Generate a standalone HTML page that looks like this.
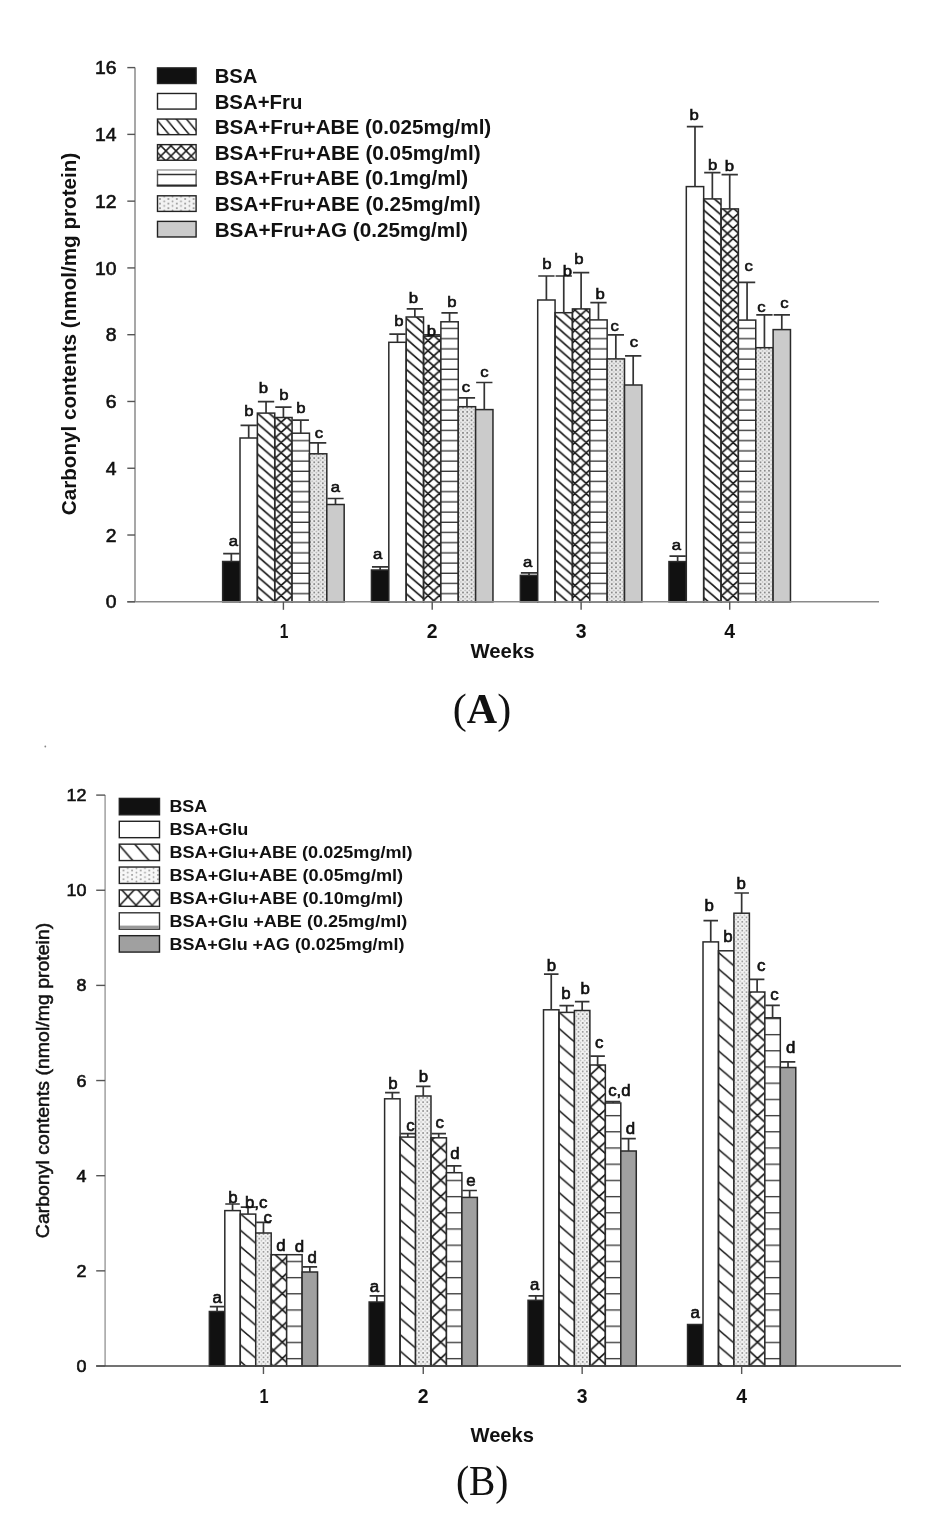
<!DOCTYPE html>
<html><head><meta charset="utf-8"><title>Carbonyl contents</title>
<style>html,body{margin:0;padding:0;background:#fff;overflow:hidden;} svg{display:block;filter:blur(0.55px);}</style>
</head><body>
<svg width="949" height="1515" viewBox="0 0 949 1515"><defs>
<pattern id="diagA" patternUnits="userSpaceOnUse" width="11.72" height="10.2" patternTransform="translate(0 5.6)">
  <path d="M-11.72 -10.2 L23.44 20.4 M-11.72 0 L11.72 20.4 M0 -10.2 L23.44 10.2" stroke="#1a1a1a" stroke-width="1.65" fill="none"/>
</pattern>
<pattern id="crossA" patternUnits="userSpaceOnUse" width="11.3" height="10.2" patternTransform="translate(4.3 9.1)">
  <path d="M-11.3 -10.2 L22.6 20.4 M-11.3 0 L11.3 20.4 M0 -10.2 L22.6 10.2 M22.6 -10.2 L-11.3 20.4 M11.3 -10.2 L-11.3 10.2 M22.6 0 L0 20.4" stroke="#1a1a1a" stroke-width="1.7" fill="none"/>
</pattern>
<pattern id="horizA" patternUnits="userSpaceOnUse" width="20" height="10.2">
  <rect width="20" height="10.2" fill="#fff"/>
  <path d="M0 2.1 L20 2.1" stroke="#3a3a3a" stroke-width="1.35"/>
</pattern>
<pattern id="dotA" patternUnits="userSpaceOnUse" width="4.25" height="4.2" patternTransform="translate(4 0.3)"><rect x="-1" y="-1" width="6.25" height="6.2" fill="#eeeeee"/><circle cx="0" cy="0" r="1.0" fill="#888"/><circle cx="4.25" cy="0" r="1.0" fill="#888"/><circle cx="0" cy="4.2" r="1.0" fill="#888"/><circle cx="4.25" cy="4.2" r="1.0" fill="#888"/><circle cx="2.125" cy="2.1" r="0.85" fill="#b0b0b0"/></pattern>
<pattern id="diagB" patternUnits="userSpaceOnUse" width="19.07" height="16.4" patternTransform="translate(0 6.6)">
  <path d="M-19.07 -16.4 L38.14 32.8 M-19.07 0 L19.07 32.8 M0 -16.4 L38.14 16.4" stroke="#1a1a1a" stroke-width="1.6" fill="none"/>
</pattern>
<pattern id="crossB" patternUnits="userSpaceOnUse" width="17.6" height="16.2" patternTransform="translate(9.5 5.7)">
  <path d="M-17.6 -16.2 L35.2 32.4 M-17.6 0 L17.6 32.4 M0 -16.2 L35.2 16.2 M35.2 -16.2 L-17.6 32.4 M17.6 -16.2 L-17.6 16.2 M35.2 0 L0 32.4" stroke="#1a1a1a" stroke-width="1.65" fill="none"/>
</pattern>
<pattern id="horizB" patternUnits="userSpaceOnUse" width="20" height="16.2">
  <rect width="20" height="16.2" fill="#fff"/>
  <path d="M0 14 L20 14" stroke="#3a3a3a" stroke-width="1.35"/>
</pattern>
<pattern id="dotB" patternUnits="userSpaceOnUse" width="4.2" height="4.4" patternTransform="translate(7.3 2.2)"><rect x="-1" y="-1" width="6.2" height="6.4" fill="#f3f3f3"/><circle cx="0" cy="0" r="0.95" fill="#8c8c8c"/><circle cx="4.2" cy="0" r="0.95" fill="#8c8c8c"/><circle cx="0" cy="4.4" r="0.95" fill="#8c8c8c"/><circle cx="4.2" cy="4.4" r="0.95" fill="#8c8c8c"/><circle cx="2.1" cy="2.2" r="0.8" fill="#b8b8b8"/></pattern>
<pattern id="diagLA" patternUnits="userSpaceOnUse" width="10.1" height="12.12" patternTransform="translate(166.7 119.6)">
  <path d="M-10.1 -12.12 L20.2 24.24 M-10.1 0 L10.1 24.24 M0 -12.12 L20.2 12.12" stroke="#1a1a1a" stroke-width="1.5" fill="none"/>
</pattern>
<pattern id="crossLA" patternUnits="userSpaceOnUse" width="10.1" height="10.2" patternTransform="translate(165.9 150.9)">
  <path d="M-10.1 -10.2 L20.2 20.4 M-10.1 0 L10.1 20.4 M0 -10.2 L20.2 10.2 M20.2 -10.2 L-10.1 20.4 M10.1 -10.2 L-10.1 10.2 M20.2 0 L0 20.4" stroke="#1a1a1a" stroke-width="1.5" fill="none"/>
</pattern>
<pattern id="dotLA" patternUnits="userSpaceOnUse" width="8.4" height="4.6" patternTransform="translate(160 199)"><rect x="-1" y="-1" width="10.4" height="6.6" fill="#f3f3f3"/><circle cx="0" cy="0" r="0.95" fill="#888"/><circle cx="8.4" cy="0" r="0.95" fill="#888"/><circle cx="0" cy="4.6" r="0.95" fill="#888"/><circle cx="8.4" cy="4.6" r="0.95" fill="#888"/><circle cx="4.2" cy="2.3" r="0.9" fill="#999"/></pattern>
<pattern id="diagLB" patternUnits="userSpaceOnUse" width="16.3" height="18.75" patternTransform="translate(135.1 844.5)">
  <path d="M-16.3 -18.75 L32.6 37.5 M-16.3 0 L16.3 37.5 M0 -18.75 L32.6 18.75" stroke="#1a1a1a" stroke-width="1.5" fill="none"/>
</pattern>
<pattern id="crossLB" patternUnits="userSpaceOnUse" width="16.1" height="17.4" patternTransform="translate(128 896.6)">
  <path d="M-16.1 -17.4 L32.2 34.8 M-16.1 0 L16.1 34.8 M0 -17.4 L32.2 17.4 M32.2 -17.4 L-16.1 34.8 M16.1 -17.4 L-16.1 17.4 M32.2 0 L0 34.8" stroke="#1a1a1a" stroke-width="1.5" fill="none"/>
</pattern>
<pattern id="dotLB" patternUnits="userSpaceOnUse" width="8.6" height="4.4" patternTransform="translate(123.5 870.5)"><rect x="-1" y="-1" width="10.6" height="6.4" fill="#f7f7f7"/><circle cx="0" cy="0" r="0.9" fill="#888"/><circle cx="8.6" cy="0" r="0.9" fill="#888"/><circle cx="0" cy="4.4" r="0.9" fill="#888"/><circle cx="8.6" cy="4.4" r="0.9" fill="#888"/><circle cx="4.3" cy="2.2" r="0.85" fill="#999"/></pattern>
</defs>
<rect x="222.65" y="561.5" width="17.36" height="40.3" fill="#111" stroke="#2a2a2a" stroke-width="1.5"/>
<path d="M231.33 561.5 V553.6 M223.17 553.6 H239.49" stroke="#333" stroke-width="1.7" fill="none"/>
<rect x="240.01" y="438" width="17.36" height="163.8" fill="#fff" stroke="#2a2a2a" stroke-width="1.5"/>
<path d="M248.69 438 V425.4 M240.53 425.4 H256.85" stroke="#333" stroke-width="1.7" fill="none"/>
<rect x="257.37" y="413.1" width="17.36" height="188.7" fill="url(#diagA)" stroke="#2a2a2a" stroke-width="1.5"/>
<path d="M266.05 413.1 V401.7 M257.89 401.7 H274.21" stroke="#333" stroke-width="1.7" fill="none"/>
<rect x="274.73" y="417.5" width="17.36" height="184.3" fill="url(#crossA)" stroke="#2a2a2a" stroke-width="1.5"/>
<path d="M283.41 417.5 V407.2 M275.25 407.2 H291.57" stroke="#333" stroke-width="1.7" fill="none"/>
<rect x="292.09" y="433.2" width="17.36" height="168.6" fill="url(#horizA)" stroke="#2a2a2a" stroke-width="1.5"/>
<path d="M300.77 433.2 V420.2 M292.61 420.2 H308.93" stroke="#333" stroke-width="1.7" fill="none"/>
<rect x="309.45" y="453.8" width="17.36" height="148" fill="url(#dotA)" stroke="#2a2a2a" stroke-width="1.5"/>
<path d="M318.13 453.8 V442.8 M309.97 442.8 H326.29" stroke="#333" stroke-width="1.7" fill="none"/>
<rect x="326.81" y="504.5" width="17.36" height="97.3" fill="#cbcbcb" stroke="#2a2a2a" stroke-width="1.5"/>
<path d="M335.49 504.5 V498.5 M327.33 498.5 H343.65" stroke="#333" stroke-width="1.7" fill="none"/>
<rect x="371.45" y="570" width="17.36" height="31.8" fill="#111" stroke="#2a2a2a" stroke-width="1.5"/>
<path d="M380.13 570 V566.9 M371.97 566.9 H388.29" stroke="#333" stroke-width="1.7" fill="none"/>
<rect x="388.81" y="342.3" width="17.36" height="259.5" fill="#fff" stroke="#2a2a2a" stroke-width="1.5"/>
<path d="M397.49 342.3 V334.1 M389.33 334.1 H405.65" stroke="#333" stroke-width="1.7" fill="none"/>
<rect x="406.17" y="317" width="17.36" height="284.8" fill="url(#diagA)" stroke="#2a2a2a" stroke-width="1.5"/>
<path d="M414.85 317 V308.8 M406.69 308.8 H423.01" stroke="#333" stroke-width="1.7" fill="none"/>
<rect x="423.53" y="336.2" width="17.36" height="265.6" fill="url(#crossA)" stroke="#2a2a2a" stroke-width="1.5"/>
<path d="M432.21 336.2 V334.8 M424.05 334.8 H440.37" stroke="#333" stroke-width="1.7" fill="none"/>
<rect x="440.89" y="321.8" width="17.36" height="280" fill="url(#horizA)" stroke="#2a2a2a" stroke-width="1.5"/>
<path d="M449.57 321.8 V312.9 M441.41 312.9 H457.73" stroke="#333" stroke-width="1.7" fill="none"/>
<rect x="458.25" y="406.7" width="17.36" height="195.1" fill="url(#dotA)" stroke="#2a2a2a" stroke-width="1.5"/>
<path d="M466.93 406.7 V397.8 M458.77 397.8 H475.09" stroke="#333" stroke-width="1.7" fill="none"/>
<rect x="475.61" y="409.6" width="17.36" height="192.2" fill="#cbcbcb" stroke="#2a2a2a" stroke-width="1.5"/>
<path d="M484.29 409.6 V382.5 M476.13 382.5 H492.45" stroke="#333" stroke-width="1.7" fill="none"/>
<rect x="520.35" y="575.4" width="17.36" height="26.4" fill="#111" stroke="#2a2a2a" stroke-width="1.5"/>
<path d="M529.03 575.4 V572.8 M520.87 572.8 H537.19" stroke="#333" stroke-width="1.7" fill="none"/>
<rect x="537.71" y="300" width="17.36" height="301.8" fill="#fff" stroke="#2a2a2a" stroke-width="1.5"/>
<path d="M546.39 300 V276 M538.23 276 H554.55" stroke="#333" stroke-width="1.7" fill="none"/>
<rect x="555.07" y="312.7" width="17.36" height="289.1" fill="url(#diagA)" stroke="#2a2a2a" stroke-width="1.5"/>
<path d="M563.75 312.7 V276 M555.59 276 H571.91" stroke="#333" stroke-width="1.7" fill="none"/>
<rect x="572.43" y="308.9" width="17.36" height="292.9" fill="url(#crossA)" stroke="#2a2a2a" stroke-width="1.5"/>
<path d="M581.11 308.9 V272.6 M572.95 272.6 H589.27" stroke="#333" stroke-width="1.7" fill="none"/>
<rect x="589.79" y="319.9" width="17.36" height="281.9" fill="url(#horizA)" stroke="#2a2a2a" stroke-width="1.5"/>
<path d="M598.47 319.9 V302.7 M590.31 302.7 H606.63" stroke="#333" stroke-width="1.7" fill="none"/>
<rect x="607.15" y="358.9" width="17.36" height="242.9" fill="url(#dotA)" stroke="#2a2a2a" stroke-width="1.5"/>
<path d="M615.83 358.9 V334.9 M607.67 334.9 H623.99" stroke="#333" stroke-width="1.7" fill="none"/>
<rect x="624.51" y="385" width="17.36" height="216.8" fill="#cbcbcb" stroke="#2a2a2a" stroke-width="1.5"/>
<path d="M633.19 385 V355.8 M625.03 355.8 H641.35" stroke="#333" stroke-width="1.7" fill="none"/>
<rect x="668.95" y="561.6" width="17.36" height="40.2" fill="#111" stroke="#2a2a2a" stroke-width="1.5"/>
<path d="M677.63 561.6 V556.2 M669.47 556.2 H685.79" stroke="#333" stroke-width="1.7" fill="none"/>
<rect x="686.31" y="186.6" width="17.36" height="415.2" fill="#fff" stroke="#2a2a2a" stroke-width="1.5"/>
<path d="M694.99 186.6 V126.7 M686.83 126.7 H703.15" stroke="#333" stroke-width="1.7" fill="none"/>
<rect x="703.67" y="198.9" width="17.36" height="402.9" fill="url(#diagA)" stroke="#2a2a2a" stroke-width="1.5"/>
<path d="M712.35 198.9 V172.6 M704.19 172.6 H720.51" stroke="#333" stroke-width="1.7" fill="none"/>
<rect x="721.03" y="208.9" width="17.36" height="392.9" fill="url(#crossA)" stroke="#2a2a2a" stroke-width="1.5"/>
<path d="M729.71 208.9 V174.7 M721.55 174.7 H737.87" stroke="#333" stroke-width="1.7" fill="none"/>
<rect x="738.39" y="320.1" width="17.36" height="281.7" fill="url(#horizA)" stroke="#2a2a2a" stroke-width="1.5"/>
<path d="M747.07 320.1 V282.4 M738.91 282.4 H755.23" stroke="#333" stroke-width="1.7" fill="none"/>
<rect x="755.75" y="347.7" width="17.36" height="254.1" fill="url(#dotA)" stroke="#2a2a2a" stroke-width="1.5"/>
<path d="M764.43 347.7 V314.9 M756.27 314.9 H772.59" stroke="#333" stroke-width="1.7" fill="none"/>
<rect x="773.11" y="329.6" width="17.36" height="272.2" fill="#cbcbcb" stroke="#2a2a2a" stroke-width="1.5"/>
<path d="M781.79 329.6 V314.9 M773.63 314.9 H789.95" stroke="#333" stroke-width="1.7" fill="none"/>
<text x="0" y="0" transform="translate(233.4 545.5) scale(1.1 1)" font-family="'Liberation Sans', sans-serif" font-size="15.2" font-weight="normal" fill="#111" stroke="#111" stroke-width="0.6" text-anchor="middle">a</text>
<text x="0" y="0" transform="translate(249 416.1) scale(1.1 1)" font-family="'Liberation Sans', sans-serif" font-size="15.2" font-weight="normal" fill="#111" stroke="#111" stroke-width="0.6" text-anchor="middle">b</text>
<text x="0" y="0" transform="translate(263.3 392.8) scale(1.1 1)" font-family="'Liberation Sans', sans-serif" font-size="15.2" font-weight="normal" fill="#111" stroke="#111" stroke-width="0.6" text-anchor="middle">b</text>
<text x="0" y="0" transform="translate(283.9 399.7) scale(1.1 1)" font-family="'Liberation Sans', sans-serif" font-size="15.2" font-weight="normal" fill="#111" stroke="#111" stroke-width="0.6" text-anchor="middle">b</text>
<text x="0" y="0" transform="translate(301 412.7) scale(1.1 1)" font-family="'Liberation Sans', sans-serif" font-size="15.2" font-weight="normal" fill="#111" stroke="#111" stroke-width="0.6" text-anchor="middle">b</text>
<text x="0" y="0" transform="translate(318.8 438) scale(1.1 1)" font-family="'Liberation Sans', sans-serif" font-size="15.2" font-weight="normal" fill="#111" stroke="#111" stroke-width="0.6" text-anchor="middle">c</text>
<text x="0" y="0" transform="translate(335.5 492.1) scale(1.1 1)" font-family="'Liberation Sans', sans-serif" font-size="15.2" font-weight="normal" fill="#111" stroke="#111" stroke-width="0.6" text-anchor="middle">a</text>
<text x="0" y="0" transform="translate(377.7 559.3) scale(1.1 1)" font-family="'Liberation Sans', sans-serif" font-size="15.2" font-weight="normal" fill="#111" stroke="#111" stroke-width="0.6" text-anchor="middle">a</text>
<text x="0" y="0" transform="translate(399 325.9) scale(1.1 1)" font-family="'Liberation Sans', sans-serif" font-size="15.2" font-weight="normal" fill="#111" stroke="#111" stroke-width="0.6" text-anchor="middle">b</text>
<text x="0" y="0" transform="translate(413.3 303.3) scale(1.1 1)" font-family="'Liberation Sans', sans-serif" font-size="15.2" font-weight="normal" fill="#111" stroke="#111" stroke-width="0.6" text-anchor="middle">b</text>
<text x="0" y="0" transform="translate(431.4 335.5) scale(1.1 1)" font-family="'Liberation Sans', sans-serif" font-size="15.2" font-weight="normal" fill="#111" stroke="#111" stroke-width="0.6" text-anchor="middle">b</text>
<text x="0" y="0" transform="translate(452 306.7) scale(1.1 1)" font-family="'Liberation Sans', sans-serif" font-size="15.2" font-weight="normal" fill="#111" stroke="#111" stroke-width="0.6" text-anchor="middle">b</text>
<text x="0" y="0" transform="translate(466 391.6) scale(1.1 1)" font-family="'Liberation Sans', sans-serif" font-size="15.2" font-weight="normal" fill="#111" stroke="#111" stroke-width="0.6" text-anchor="middle">c</text>
<text x="0" y="0" transform="translate(484.5 376.6) scale(1.1 1)" font-family="'Liberation Sans', sans-serif" font-size="15.2" font-weight="normal" fill="#111" stroke="#111" stroke-width="0.6" text-anchor="middle">c</text>
<text x="0" y="0" transform="translate(527.7 566.8) scale(1.1 1)" font-family="'Liberation Sans', sans-serif" font-size="15.2" font-weight="normal" fill="#111" stroke="#111" stroke-width="0.6" text-anchor="middle">a</text>
<text x="0" y="0" transform="translate(546.8 269.2) scale(1.1 1)" font-family="'Liberation Sans', sans-serif" font-size="15.2" font-weight="normal" fill="#111" stroke="#111" stroke-width="0.6" text-anchor="middle">b</text>
<text x="0" y="0" transform="translate(567.5 276) scale(1.1 1)" font-family="'Liberation Sans', sans-serif" font-size="15.2" font-weight="normal" fill="#111" stroke="#111" stroke-width="0.6" text-anchor="middle">b</text>
<text x="0" y="0" transform="translate(579 264.4) scale(1.1 1)" font-family="'Liberation Sans', sans-serif" font-size="15.2" font-weight="normal" fill="#111" stroke="#111" stroke-width="0.6" text-anchor="middle">b</text>
<text x="0" y="0" transform="translate(600.2 298.6) scale(1.1 1)" font-family="'Liberation Sans', sans-serif" font-size="15.2" font-weight="normal" fill="#111" stroke="#111" stroke-width="0.6" text-anchor="middle">b</text>
<text x="0" y="0" transform="translate(614.7 330.8) scale(1.1 1)" font-family="'Liberation Sans', sans-serif" font-size="15.2" font-weight="normal" fill="#111" stroke="#111" stroke-width="0.6" text-anchor="middle">c</text>
<text x="0" y="0" transform="translate(633.8 347.3) scale(1.1 1)" font-family="'Liberation Sans', sans-serif" font-size="15.2" font-weight="normal" fill="#111" stroke="#111" stroke-width="0.6" text-anchor="middle">c</text>
<text x="0" y="0" transform="translate(676.4 549.8) scale(1.1 1)" font-family="'Liberation Sans', sans-serif" font-size="15.2" font-weight="normal" fill="#111" stroke="#111" stroke-width="0.6" text-anchor="middle">a</text>
<text x="0" y="0" transform="translate(694.2 119.9) scale(1.1 1)" font-family="'Liberation Sans', sans-serif" font-size="15.2" font-weight="normal" fill="#111" stroke="#111" stroke-width="0.6" text-anchor="middle">b</text>
<text x="0" y="0" transform="translate(712.7 169.9) scale(1.1 1)" font-family="'Liberation Sans', sans-serif" font-size="15.2" font-weight="normal" fill="#111" stroke="#111" stroke-width="0.6" text-anchor="middle">b</text>
<text x="0" y="0" transform="translate(729.4 171.2) scale(1.1 1)" font-family="'Liberation Sans', sans-serif" font-size="15.2" font-weight="normal" fill="#111" stroke="#111" stroke-width="0.6" text-anchor="middle">b</text>
<text x="0" y="0" transform="translate(748.7 271.4) scale(1.1 1)" font-family="'Liberation Sans', sans-serif" font-size="15.2" font-weight="normal" fill="#111" stroke="#111" stroke-width="0.6" text-anchor="middle">c</text>
<text x="0" y="0" transform="translate(761.4 312) scale(1.1 1)" font-family="'Liberation Sans', sans-serif" font-size="15.2" font-weight="normal" fill="#111" stroke="#111" stroke-width="0.6" text-anchor="middle">c</text>
<text x="0" y="0" transform="translate(784.3 307.5) scale(1.1 1)" font-family="'Liberation Sans', sans-serif" font-size="15.2" font-weight="normal" fill="#111" stroke="#111" stroke-width="0.6" text-anchor="middle">c</text>
<path d="M135 67.6 V601.8" stroke="#8a8a8a" stroke-width="1.5" fill="none"/>
<path d="M127.3 601.8 H879" stroke="#8a8a8a" stroke-width="1.5" fill="none"/>
<path d="M127.3 601.8 H135" stroke="#555" stroke-width="1.4"/>
<text x="0" y="0" transform="translate(116.49 608.38) scale(1.03 1)" font-family="'Liberation Sans', sans-serif" font-size="18.8" font-weight="normal" fill="#111" stroke="#111" stroke-width="0.6" text-anchor="end">0</text>
<path d="M127.3 535.02 H135" stroke="#555" stroke-width="1.4"/>
<text x="0" y="0" transform="translate(116.49 541.61) scale(1.03 1)" font-family="'Liberation Sans', sans-serif" font-size="18.8" font-weight="normal" fill="#111" stroke="#111" stroke-width="0.6" text-anchor="end">2</text>
<path d="M127.3 468.25 H135" stroke="#555" stroke-width="1.4"/>
<text x="0" y="0" transform="translate(116.49 474.83) scale(1.03 1)" font-family="'Liberation Sans', sans-serif" font-size="18.8" font-weight="normal" fill="#111" stroke="#111" stroke-width="0.6" text-anchor="end">4</text>
<path d="M127.3 401.47 H135" stroke="#555" stroke-width="1.4"/>
<text x="0" y="0" transform="translate(116.49 408.05) scale(1.03 1)" font-family="'Liberation Sans', sans-serif" font-size="18.8" font-weight="normal" fill="#111" stroke="#111" stroke-width="0.6" text-anchor="end">6</text>
<path d="M127.3 334.7 H135" stroke="#555" stroke-width="1.4"/>
<text x="0" y="0" transform="translate(116.49 341.28) scale(1.03 1)" font-family="'Liberation Sans', sans-serif" font-size="18.8" font-weight="normal" fill="#111" stroke="#111" stroke-width="0.6" text-anchor="end">8</text>
<path d="M127.3 267.93 H135" stroke="#555" stroke-width="1.4"/>
<text x="0" y="0" transform="translate(116.49 274.5) scale(1.03 1)" font-family="'Liberation Sans', sans-serif" font-size="18.8" font-weight="normal" fill="#111" stroke="#111" stroke-width="0.6" text-anchor="end">10</text>
<path d="M127.3 201.15 H135" stroke="#555" stroke-width="1.4"/>
<text x="0" y="0" transform="translate(116.49 207.73) scale(1.03 1)" font-family="'Liberation Sans', sans-serif" font-size="18.8" font-weight="normal" fill="#111" stroke="#111" stroke-width="0.6" text-anchor="end">12</text>
<path d="M127.3 134.38 H135" stroke="#555" stroke-width="1.4"/>
<text x="0" y="0" transform="translate(116.49 140.96) scale(1.03 1)" font-family="'Liberation Sans', sans-serif" font-size="18.8" font-weight="normal" fill="#111" stroke="#111" stroke-width="0.6" text-anchor="end">14</text>
<path d="M127.3 67.6 H135" stroke="#555" stroke-width="1.4"/>
<text x="0" y="0" transform="translate(116.49 74.18) scale(1.03 1)" font-family="'Liberation Sans', sans-serif" font-size="18.8" font-weight="normal" fill="#111" stroke="#111" stroke-width="0.6" text-anchor="end">16</text>
<path d="M283.41 601.8 V609.8" stroke="#555" stroke-width="1.4"/>
<text x="0" y="0" transform="translate(284.01 637.8) scale(0.8 1)" font-family="'Liberation Sans', sans-serif" font-size="19.4" font-weight="bold" fill="#111" text-anchor="middle">1</text>
<path d="M432.21 601.8 V609.8" stroke="#555" stroke-width="1.4"/>
<text x="0" y="0" transform="translate(432.21 637.8)" font-family="'Liberation Sans', sans-serif" font-size="19.4" font-weight="bold" fill="#111" text-anchor="middle">2</text>
<path d="M581.11 601.8 V609.8" stroke="#555" stroke-width="1.4"/>
<text x="0" y="0" transform="translate(581.11 637.8)" font-family="'Liberation Sans', sans-serif" font-size="19.4" font-weight="bold" fill="#111" text-anchor="middle">3</text>
<path d="M729.71 601.8 V609.8" stroke="#555" stroke-width="1.4"/>
<text x="0" y="0" transform="translate(729.71 637.8)" font-family="'Liberation Sans', sans-serif" font-size="19.4" font-weight="bold" fill="#111" text-anchor="middle">4</text>
<rect x="209.35" y="1311.5" width="15.46" height="54.5" fill="#111" stroke="#2a2a2a" stroke-width="1.5"/>
<path d="M217.08 1311.5 V1306.7 M209.81 1306.7 H224.35" stroke="#333" stroke-width="1.7" fill="none"/>
<rect x="224.81" y="1210.6" width="15.46" height="155.4" fill="#fff" stroke="#2a2a2a" stroke-width="1.5"/>
<path d="M232.54 1210.6 V1204 M225.27 1204 H239.81" stroke="#333" stroke-width="1.7" fill="none"/>
<rect x="240.27" y="1214.1" width="15.46" height="151.9" fill="url(#diagB)" stroke="#2a2a2a" stroke-width="1.5"/>
<path d="M248 1214.1 V1207.1 M240.73 1207.1 H255.27" stroke="#333" stroke-width="1.7" fill="none"/>
<rect x="255.73" y="1233" width="15.46" height="133" fill="url(#dotB)" stroke="#2a2a2a" stroke-width="1.5"/>
<path d="M263.46 1233 V1222.3 M256.19 1222.3 H270.73" stroke="#333" stroke-width="1.7" fill="none"/>
<rect x="271.19" y="1254.7" width="15.46" height="111.3" fill="url(#crossB)" stroke="#2a2a2a" stroke-width="1.5"/>
<rect x="286.65" y="1254.7" width="15.46" height="111.3" fill="url(#horizB)" stroke="#2a2a2a" stroke-width="1.5"/>
<rect x="302.11" y="1272" width="15.46" height="94" fill="#a0a0a0" stroke="#2a2a2a" stroke-width="1.5"/>
<path d="M309.84 1272 V1266.9 M302.57 1266.9 H317.11" stroke="#333" stroke-width="1.7" fill="none"/>
<rect x="369.15" y="1302" width="15.46" height="64" fill="#111" stroke="#2a2a2a" stroke-width="1.5"/>
<path d="M376.88 1302 V1295.9 M369.61 1295.9 H384.15" stroke="#333" stroke-width="1.7" fill="none"/>
<rect x="384.61" y="1098.8" width="15.46" height="267.2" fill="#fff" stroke="#2a2a2a" stroke-width="1.5"/>
<path d="M392.34 1098.8 V1092.6 M385.07 1092.6 H399.61" stroke="#333" stroke-width="1.7" fill="none"/>
<rect x="400.07" y="1137.1" width="15.46" height="228.9" fill="url(#diagB)" stroke="#2a2a2a" stroke-width="1.5"/>
<path d="M407.8 1137.1 V1133.7 M400.53 1133.7 H415.07" stroke="#333" stroke-width="1.7" fill="none"/>
<rect x="415.53" y="1096" width="15.46" height="270" fill="url(#dotB)" stroke="#2a2a2a" stroke-width="1.5"/>
<path d="M423.26 1096 V1086.4 M415.99 1086.4 H430.53" stroke="#333" stroke-width="1.7" fill="none"/>
<rect x="430.99" y="1137.8" width="15.46" height="228.2" fill="url(#crossB)" stroke="#2a2a2a" stroke-width="1.5"/>
<path d="M438.72 1137.8 V1133.7 M431.45 1133.7 H445.99" stroke="#333" stroke-width="1.7" fill="none"/>
<rect x="446.45" y="1172.7" width="15.46" height="193.3" fill="url(#horizB)" stroke="#2a2a2a" stroke-width="1.5"/>
<path d="M454.18 1172.7 V1165.9 M446.91 1165.9 H461.45" stroke="#333" stroke-width="1.7" fill="none"/>
<rect x="461.91" y="1197.4" width="15.46" height="168.6" fill="#a0a0a0" stroke="#2a2a2a" stroke-width="1.5"/>
<path d="M469.64 1197.4 V1190.5 M462.37 1190.5 H476.91" stroke="#333" stroke-width="1.7" fill="none"/>
<rect x="528.05" y="1300.3" width="15.46" height="65.7" fill="#111" stroke="#2a2a2a" stroke-width="1.5"/>
<path d="M535.78 1300.3 V1295.9 M528.51 1295.9 H543.05" stroke="#333" stroke-width="1.7" fill="none"/>
<rect x="543.51" y="1009.8" width="15.46" height="356.2" fill="#fff" stroke="#2a2a2a" stroke-width="1.5"/>
<path d="M551.24 1009.8 V974.2 M543.97 974.2 H558.51" stroke="#333" stroke-width="1.7" fill="none"/>
<rect x="558.97" y="1012.4" width="15.46" height="353.6" fill="url(#diagB)" stroke="#2a2a2a" stroke-width="1.5"/>
<path d="M566.7 1012.4 V1005.7 M559.43 1005.7 H573.97" stroke="#333" stroke-width="1.7" fill="none"/>
<rect x="574.43" y="1010.5" width="15.46" height="355.5" fill="url(#dotB)" stroke="#2a2a2a" stroke-width="1.5"/>
<path d="M582.16 1010.5 V1001.6 M574.89 1001.6 H589.43" stroke="#333" stroke-width="1.7" fill="none"/>
<rect x="589.89" y="1065" width="15.46" height="301" fill="url(#crossB)" stroke="#2a2a2a" stroke-width="1.5"/>
<path d="M597.62 1065 V1056.2 M590.35 1056.2 H604.89" stroke="#333" stroke-width="1.7" fill="none"/>
<rect x="605.35" y="1103" width="15.46" height="263" fill="url(#horizB)" stroke="#2a2a2a" stroke-width="1.5"/>
<path d="M613.08 1103 V1101.7 M605.81 1101.7 H620.35" stroke="#333" stroke-width="1.7" fill="none"/>
<rect x="620.81" y="1151" width="15.46" height="215" fill="#a0a0a0" stroke="#2a2a2a" stroke-width="1.5"/>
<path d="M628.54 1151 V1138.6 M621.27 1138.6 H635.81" stroke="#333" stroke-width="1.7" fill="none"/>
<rect x="687.55" y="1324.5" width="15.46" height="41.5" fill="#111" stroke="#2a2a2a" stroke-width="1.5"/>
<rect x="703.01" y="941.9" width="15.46" height="424.1" fill="#fff" stroke="#2a2a2a" stroke-width="1.5"/>
<path d="M710.74 941.9 V920.7 M703.47 920.7 H718.01" stroke="#333" stroke-width="1.7" fill="none"/>
<rect x="718.47" y="950.8" width="15.46" height="415.2" fill="url(#diagB)" stroke="#2a2a2a" stroke-width="1.5"/>
<rect x="733.93" y="913.2" width="15.46" height="452.8" fill="url(#dotB)" stroke="#2a2a2a" stroke-width="1.5"/>
<path d="M741.66 913.2 V893 M734.39 893 H748.93" stroke="#333" stroke-width="1.7" fill="none"/>
<rect x="749.39" y="992" width="15.46" height="374" fill="url(#crossB)" stroke="#2a2a2a" stroke-width="1.5"/>
<path d="M757.12 992 V979.4 M749.85 979.4 H764.39" stroke="#333" stroke-width="1.7" fill="none"/>
<rect x="764.85" y="1017.8" width="15.46" height="348.2" fill="url(#horizB)" stroke="#2a2a2a" stroke-width="1.5"/>
<path d="M772.58 1017.8 V1005.3 M765.31 1005.3 H779.85" stroke="#333" stroke-width="1.7" fill="none"/>
<rect x="780.31" y="1067.5" width="15.46" height="298.5" fill="#a0a0a0" stroke="#2a2a2a" stroke-width="1.5"/>
<path d="M788.04 1067.5 V1061.9 M780.77 1061.9 H795.31" stroke="#333" stroke-width="1.7" fill="none"/>
<text x="0" y="0" transform="translate(217.1 1302.8) scale(1.08 1)" font-family="'Liberation Sans', sans-serif" font-size="15.6" font-weight="normal" fill="#111" stroke="#111" stroke-width="0.6" text-anchor="middle">a</text>
<text x="0" y="0" transform="translate(232.9 1202.8) scale(1.08 1)" font-family="'Liberation Sans', sans-serif" font-size="15.6" font-weight="normal" fill="#111" stroke="#111" stroke-width="0.6" text-anchor="middle">b</text>
<text x="0" y="0" transform="translate(244.96 1208.3) scale(1.08 1)" font-family="'Liberation Sans', sans-serif" font-size="15.6" font-weight="normal" fill="#111" stroke="#111" stroke-width="0.6" text-anchor="start">b,c</text>
<text x="0" y="0" transform="translate(267.8 1223.3) scale(1.08 1)" font-family="'Liberation Sans', sans-serif" font-size="15.6" font-weight="normal" fill="#111" stroke="#111" stroke-width="0.6" text-anchor="middle">c</text>
<text x="0" y="0" transform="translate(281 1251.4) scale(1.08 1)" font-family="'Liberation Sans', sans-serif" font-size="15.6" font-weight="normal" fill="#111" stroke="#111" stroke-width="0.6" text-anchor="middle">d</text>
<text x="0" y="0" transform="translate(299.4 1251.9) scale(1.08 1)" font-family="'Liberation Sans', sans-serif" font-size="15.6" font-weight="normal" fill="#111" stroke="#111" stroke-width="0.6" text-anchor="middle">d</text>
<text x="0" y="0" transform="translate(312.3 1262.7) scale(1.08 1)" font-family="'Liberation Sans', sans-serif" font-size="15.6" font-weight="normal" fill="#111" stroke="#111" stroke-width="0.6" text-anchor="middle">d</text>
<text x="0" y="0" transform="translate(374.4 1291.6) scale(1.08 1)" font-family="'Liberation Sans', sans-serif" font-size="15.6" font-weight="normal" fill="#111" stroke="#111" stroke-width="0.6" text-anchor="middle">a</text>
<text x="0" y="0" transform="translate(392.9 1089.4) scale(1.08 1)" font-family="'Liberation Sans', sans-serif" font-size="15.6" font-weight="normal" fill="#111" stroke="#111" stroke-width="0.6" text-anchor="middle">b</text>
<text x="0" y="0" transform="translate(410.4 1131.1) scale(1.08 1)" font-family="'Liberation Sans', sans-serif" font-size="15.6" font-weight="normal" fill="#111" stroke="#111" stroke-width="0.6" text-anchor="middle">c</text>
<text x="0" y="0" transform="translate(423.4 1081.8) scale(1.08 1)" font-family="'Liberation Sans', sans-serif" font-size="15.6" font-weight="normal" fill="#111" stroke="#111" stroke-width="0.6" text-anchor="middle">b</text>
<text x="0" y="0" transform="translate(439.8 1128.4) scale(1.08 1)" font-family="'Liberation Sans', sans-serif" font-size="15.6" font-weight="normal" fill="#111" stroke="#111" stroke-width="0.6" text-anchor="middle">c</text>
<text x="0" y="0" transform="translate(454.9 1159.2) scale(1.08 1)" font-family="'Liberation Sans', sans-serif" font-size="15.6" font-weight="normal" fill="#111" stroke="#111" stroke-width="0.6" text-anchor="middle">d</text>
<text x="0" y="0" transform="translate(471 1185.9) scale(1.08 1)" font-family="'Liberation Sans', sans-serif" font-size="15.6" font-weight="normal" fill="#111" stroke="#111" stroke-width="0.6" text-anchor="middle">e</text>
<text x="0" y="0" transform="translate(534.8 1290.2) scale(1.08 1)" font-family="'Liberation Sans', sans-serif" font-size="15.6" font-weight="normal" fill="#111" stroke="#111" stroke-width="0.6" text-anchor="middle">a</text>
<text x="0" y="0" transform="translate(551.5 970.9) scale(1.08 1)" font-family="'Liberation Sans', sans-serif" font-size="15.6" font-weight="normal" fill="#111" stroke="#111" stroke-width="0.6" text-anchor="middle">b</text>
<text x="0" y="0" transform="translate(565.9 999) scale(1.08 1)" font-family="'Liberation Sans', sans-serif" font-size="15.6" font-weight="normal" fill="#111" stroke="#111" stroke-width="0.6" text-anchor="middle">b</text>
<text x="0" y="0" transform="translate(585.1 993.5) scale(1.08 1)" font-family="'Liberation Sans', sans-serif" font-size="15.6" font-weight="normal" fill="#111" stroke="#111" stroke-width="0.6" text-anchor="middle">b</text>
<text x="0" y="0" transform="translate(599.2 1047.5) scale(1.08 1)" font-family="'Liberation Sans', sans-serif" font-size="15.6" font-weight="normal" fill="#111" stroke="#111" stroke-width="0.6" text-anchor="middle">c</text>
<text x="0" y="0" transform="translate(608.16 1095.6) scale(1.08 1)" font-family="'Liberation Sans', sans-serif" font-size="15.6" font-weight="normal" fill="#111" stroke="#111" stroke-width="0.6" text-anchor="start">c,d</text>
<text x="0" y="0" transform="translate(630.5 1134.2) scale(1.08 1)" font-family="'Liberation Sans', sans-serif" font-size="15.6" font-weight="normal" fill="#111" stroke="#111" stroke-width="0.6" text-anchor="middle">d</text>
<text x="0" y="0" transform="translate(695.1 1317.5) scale(1.08 1)" font-family="'Liberation Sans', sans-serif" font-size="15.6" font-weight="normal" fill="#111" stroke="#111" stroke-width="0.6" text-anchor="middle">a</text>
<text x="0" y="0" transform="translate(709.2 911.3) scale(1.08 1)" font-family="'Liberation Sans', sans-serif" font-size="15.6" font-weight="normal" fill="#111" stroke="#111" stroke-width="0.6" text-anchor="middle">b</text>
<text x="0" y="0" transform="translate(728 942.1) scale(1.08 1)" font-family="'Liberation Sans', sans-serif" font-size="15.6" font-weight="normal" fill="#111" stroke="#111" stroke-width="0.6" text-anchor="middle">b</text>
<text x="0" y="0" transform="translate(741.3 888.7) scale(1.08 1)" font-family="'Liberation Sans', sans-serif" font-size="15.6" font-weight="normal" fill="#111" stroke="#111" stroke-width="0.6" text-anchor="middle">b</text>
<text x="0" y="0" transform="translate(761.2 970.5) scale(1.08 1)" font-family="'Liberation Sans', sans-serif" font-size="15.6" font-weight="normal" fill="#111" stroke="#111" stroke-width="0.6" text-anchor="middle">c</text>
<text x="0" y="0" transform="translate(774.5 999.7) scale(1.08 1)" font-family="'Liberation Sans', sans-serif" font-size="15.6" font-weight="normal" fill="#111" stroke="#111" stroke-width="0.6" text-anchor="middle">c</text>
<text x="0" y="0" transform="translate(790.6 1053.3) scale(1.08 1)" font-family="'Liberation Sans', sans-serif" font-size="15.6" font-weight="normal" fill="#111" stroke="#111" stroke-width="0.6" text-anchor="middle">d</text>
<path d="M105.1 795.1 V1366" stroke="#a0a0a0" stroke-width="1.5" fill="none"/>
<path d="M96.2 1366 H901" stroke="#444" stroke-width="1.5" fill="none"/>
<path d="M96.2 1366 H105.1" stroke="#555" stroke-width="1.4"/>
<text x="0" y="0" transform="translate(86.38 1372.09) scale(1.03 1)" font-family="'Liberation Sans', sans-serif" font-size="17.4" font-weight="normal" fill="#111" stroke="#111" stroke-width="0.6" text-anchor="end">0</text>
<path d="M96.2 1270.85 H105.1" stroke="#555" stroke-width="1.4"/>
<text x="0" y="0" transform="translate(86.38 1276.94) scale(1.03 1)" font-family="'Liberation Sans', sans-serif" font-size="17.4" font-weight="normal" fill="#111" stroke="#111" stroke-width="0.6" text-anchor="end">2</text>
<path d="M96.2 1175.7 H105.1" stroke="#555" stroke-width="1.4"/>
<text x="0" y="0" transform="translate(86.38 1181.79) scale(1.03 1)" font-family="'Liberation Sans', sans-serif" font-size="17.4" font-weight="normal" fill="#111" stroke="#111" stroke-width="0.6" text-anchor="end">4</text>
<path d="M96.2 1080.55 H105.1" stroke="#555" stroke-width="1.4"/>
<text x="0" y="0" transform="translate(86.38 1086.64) scale(1.03 1)" font-family="'Liberation Sans', sans-serif" font-size="17.4" font-weight="normal" fill="#111" stroke="#111" stroke-width="0.6" text-anchor="end">6</text>
<path d="M96.2 985.4 H105.1" stroke="#555" stroke-width="1.4"/>
<text x="0" y="0" transform="translate(86.38 991.49) scale(1.03 1)" font-family="'Liberation Sans', sans-serif" font-size="17.4" font-weight="normal" fill="#111" stroke="#111" stroke-width="0.6" text-anchor="end">8</text>
<path d="M96.2 890.25 H105.1" stroke="#555" stroke-width="1.4"/>
<text x="0" y="0" transform="translate(86.38 896.34) scale(1.03 1)" font-family="'Liberation Sans', sans-serif" font-size="17.4" font-weight="normal" fill="#111" stroke="#111" stroke-width="0.6" text-anchor="end">10</text>
<path d="M96.2 795.1 H105.1" stroke="#555" stroke-width="1.4"/>
<text x="0" y="0" transform="translate(86.38 801.19) scale(1.03 1)" font-family="'Liberation Sans', sans-serif" font-size="17.4" font-weight="normal" fill="#111" stroke="#111" stroke-width="0.6" text-anchor="end">12</text>
<path d="M263.46 1366 V1374" stroke="#555" stroke-width="1.4"/>
<text x="0" y="0" transform="translate(264.06 1403.3) scale(0.8 1)" font-family="'Liberation Sans', sans-serif" font-size="20.4" font-weight="bold" fill="#111" text-anchor="middle">1</text>
<path d="M423.26 1366 V1374" stroke="#555" stroke-width="1.4"/>
<text x="0" y="0" transform="translate(423.26 1403.3) scale(0.95 1)" font-family="'Liberation Sans', sans-serif" font-size="20.4" font-weight="bold" fill="#111" text-anchor="middle">2</text>
<path d="M582.16 1366 V1374" stroke="#555" stroke-width="1.4"/>
<text x="0" y="0" transform="translate(582.16 1403.3) scale(0.95 1)" font-family="'Liberation Sans', sans-serif" font-size="20.4" font-weight="bold" fill="#111" text-anchor="middle">3</text>
<path d="M741.66 1366 V1374" stroke="#555" stroke-width="1.4"/>
<text x="0" y="0" transform="translate(741.66 1403.3) scale(0.95 1)" font-family="'Liberation Sans', sans-serif" font-size="20.4" font-weight="bold" fill="#111" text-anchor="middle">4</text>
<text x="0" y="0" transform="translate(470.5 658.3)" font-family="'Liberation Sans', sans-serif" font-size="19.4" font-weight="bold" fill="#111" text-anchor="start" textLength="64" lengthAdjust="spacingAndGlyphs">Weeks</text>
<text x="0" y="0" transform="translate(470.5 1442)" font-family="'Liberation Sans', sans-serif" font-size="20.1" font-weight="bold" fill="#111" text-anchor="start" textLength="63.5" lengthAdjust="spacingAndGlyphs">Weeks</text>
<text x="0" y="0" transform="translate(76.2 515.2) rotate(-90)" font-family="'Liberation Sans', sans-serif" font-size="19.8" font-weight="bold" fill="#111" text-anchor="start" textLength="362.5" lengthAdjust="spacingAndGlyphs">Carbonyl contents (nmol/mg protein)</text>
<text x="0" y="0" transform="translate(49 1238.2) rotate(-90)" font-family="'Liberation Sans', sans-serif" font-size="18.2" font-weight="normal" fill="#111" stroke="#111" stroke-width="0.5" text-anchor="start" textLength="315.5" lengthAdjust="spacingAndGlyphs">Carbonyl contents (nmol/mg protein)</text>
<rect x="157.5" y="67.9" width="38.6" height="15.6" fill="#111" stroke="#222" stroke-width="1.4"/>
<text x="0" y="0" transform="translate(214.65 83.1)" font-family="'Liberation Sans', sans-serif" font-size="19.5" font-weight="bold" fill="#111" text-anchor="start" textLength="42.8" lengthAdjust="spacingAndGlyphs">BSA</text>
<rect x="157.5" y="93.48" width="38.6" height="15.6" fill="#fff" stroke="#222" stroke-width="1.4"/>
<text x="0" y="0" transform="translate(214.65 108.68)" font-family="'Liberation Sans', sans-serif" font-size="19.5" font-weight="bold" fill="#111" text-anchor="start" textLength="87.7" lengthAdjust="spacingAndGlyphs">BSA+Fru</text>
<rect x="157.5" y="119.06" width="38.6" height="15.6" fill="url(#diagLA)" stroke="#222" stroke-width="1.4"/>
<text x="0" y="0" transform="translate(214.65 134.26)" font-family="'Liberation Sans', sans-serif" font-size="19.5" font-weight="bold" fill="#111" text-anchor="start" textLength="276.6" lengthAdjust="spacingAndGlyphs">BSA+Fru+ABE (0.025mg/ml)</text>
<rect x="157.5" y="144.64" width="38.6" height="15.6" fill="url(#crossLA)" stroke="#222" stroke-width="1.4"/>
<text x="0" y="0" transform="translate(214.65 159.84)" font-family="'Liberation Sans', sans-serif" font-size="19.5" font-weight="bold" fill="#111" text-anchor="start" textLength="265.9" lengthAdjust="spacingAndGlyphs">BSA+Fru+ABE (0.05mg/ml)</text>
<rect x="157.5" y="170.22" width="38.6" height="15.6" fill="#fff" stroke="#555" stroke-width="1.4"/><path d="M157.5 170.22 H196.1" stroke="#bbb" stroke-width="1.4"/><path d="M157.5 174.42 H196.1" stroke="#333" stroke-width="1.5"/><path d="M156.8 185.52 H196.8" stroke="#2a2a2a" stroke-width="2.2"/>
<text x="0" y="0" transform="translate(214.65 185.42)" font-family="'Liberation Sans', sans-serif" font-size="19.5" font-weight="bold" fill="#111" text-anchor="start" textLength="253.5" lengthAdjust="spacingAndGlyphs">BSA+Fru+ABE (0.1mg/ml)</text>
<rect x="157.5" y="195.8" width="38.6" height="15.6" fill="url(#dotLA)" stroke="#222" stroke-width="1.4"/>
<text x="0" y="0" transform="translate(214.65 211)" font-family="'Liberation Sans', sans-serif" font-size="19.5" font-weight="bold" fill="#111" text-anchor="start" textLength="265.9" lengthAdjust="spacingAndGlyphs">BSA+Fru+ABE (0.25mg/ml)</text>
<rect x="157.5" y="221.38" width="38.6" height="15.6" fill="#cbcbcb" stroke="#222" stroke-width="1.4"/>
<text x="0" y="0" transform="translate(214.65 236.58)" font-family="'Liberation Sans', sans-serif" font-size="19.5" font-weight="bold" fill="#111" text-anchor="start" textLength="253.3" lengthAdjust="spacingAndGlyphs">BSA+Fru+AG (0.25mg/ml)</text>
<rect x="119.3" y="798.4" width="40.2" height="16.4" fill="#111" stroke="#222" stroke-width="1.4"/>
<text x="0" y="0" transform="translate(169.45 812.4)" font-family="'Liberation Sans', sans-serif" font-size="16.6" font-weight="bold" fill="#111" text-anchor="start" textLength="37.8" lengthAdjust="spacingAndGlyphs">BSA</text>
<rect x="119.3" y="821.28" width="40.2" height="16.4" fill="#fff" stroke="#222" stroke-width="1.4"/>
<text x="0" y="0" transform="translate(169.45 835.28)" font-family="'Liberation Sans', sans-serif" font-size="16.6" font-weight="bold" fill="#111" text-anchor="start" textLength="78.9" lengthAdjust="spacingAndGlyphs">BSA+Glu</text>
<rect x="119.3" y="844.16" width="40.2" height="16.4" fill="url(#diagLB)" stroke="#222" stroke-width="1.4"/>
<text x="0" y="0" transform="translate(169.45 858.16)" font-family="'Liberation Sans', sans-serif" font-size="16.6" font-weight="bold" fill="#111" text-anchor="start" textLength="243.2" lengthAdjust="spacingAndGlyphs">BSA+Glu+ABE (0.025mg/ml)</text>
<rect x="119.3" y="867.04" width="40.2" height="16.4" fill="url(#dotLB)" stroke="#222" stroke-width="1.4"/>
<text x="0" y="0" transform="translate(169.45 881.04)" font-family="'Liberation Sans', sans-serif" font-size="16.6" font-weight="bold" fill="#111" text-anchor="start" textLength="233.7" lengthAdjust="spacingAndGlyphs">BSA+Glu+ABE (0.05mg/ml)</text>
<rect x="119.3" y="889.92" width="40.2" height="16.4" fill="url(#crossLB)" stroke="#222" stroke-width="1.4"/>
<text x="0" y="0" transform="translate(169.45 903.92)" font-family="'Liberation Sans', sans-serif" font-size="16.6" font-weight="bold" fill="#111" text-anchor="start" textLength="233.7" lengthAdjust="spacingAndGlyphs">BSA+Glu+ABE (0.10mg/ml)</text>
<rect x="119.3" y="912.8" width="40.2" height="16.4" fill="#fff" stroke="#333" stroke-width="1.4"/><rect x="120" y="925.6" width="38.8" height="2.9" fill="#999"/>
<text x="0" y="0" transform="translate(169.45 926.8)" font-family="'Liberation Sans', sans-serif" font-size="16.6" font-weight="bold" fill="#111" text-anchor="start" textLength="237.8" lengthAdjust="spacingAndGlyphs">BSA+Glu +ABE (0.25mg/ml)</text>
<rect x="119.3" y="935.68" width="40.2" height="16.4" fill="#a0a0a0" stroke="#222" stroke-width="1.4"/>
<text x="0" y="0" transform="translate(169.45 949.68)" font-family="'Liberation Sans', sans-serif" font-size="16.6" font-weight="bold" fill="#111" text-anchor="start" textLength="235" lengthAdjust="spacingAndGlyphs">BSA+Glu +AG (0.025mg/ml)</text>
<text x="0" y="0" transform="translate(482 723.2)" font-family="'Liberation Serif', serif" font-size="42" text-anchor="middle" fill="#111">(<tspan font-weight="bold">A</tspan>)</text>
<text x="0" y="0" transform="translate(482.2 1494.7) scale(0.94 1)" font-family="'Liberation Serif', serif" font-size="42" text-anchor="middle" fill="#111">(B)</text>
<circle cx="45.3" cy="746.5" r="0.9" fill="#888"/>
</svg>
</body></html>
